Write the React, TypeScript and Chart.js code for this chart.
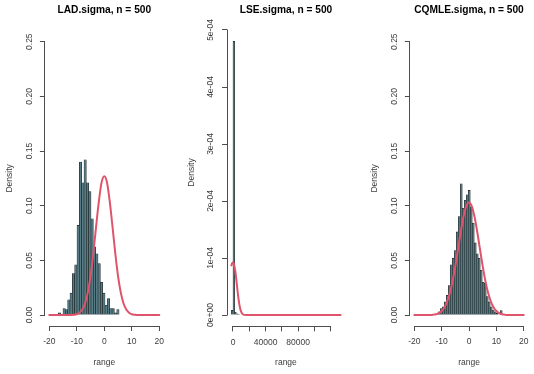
import React, { useEffect, useRef } from 'react';
import { Chart, registerables } from 'chart.js';

Chart.register(...registerables);

const FONT_FAMILY = "'Liberation Sans', Arial, Helvetica, sans-serif";
const CURVE_RED = '#DF536B';
const BAR_FILL = '#567b84';
const BAR_EDGE = '#1d2426';
const AXIS_COLOR = '#4d4d4d';
const LABEL_COLOR = '#3c3c3c';
const TITLE_COLOR = '#000000';

// ---------- shared axes for LAD / CQMLE ----------
const SIGMA_X_TICKS = [-20, -10, 0, 10, 20];
const SIGMA_X_TICK_LABELS = ['-20', '-10', '0', '10', '20'];
const SIGMA_Y_TICKS = [0, 0.05, 0.1, 0.15, 0.2, 0.25];
const SIGMA_Y_TICK_LABELS = ['0.00', '0.05', '0.10', '0.15', '0.20', '0.25'];

// ---------- LAD.sigma ----------
const LAD_TITLE = 'LAD.sigma, n = 500';
const LAD_BREAK_START = -16.73;
const LAD_BIN_WIDTH = 0.85;
const LAD_DENSITY = [0.002, 0, 0.006, 0.005, 0.014, 0.02, 0.038, 0.046, 0.082, 0.14, 0.121, 0.142, 0.121, 0.113, 0.088, 0.0625, 0.056, 0.047, 0.03, 0.02, 0.009, 0.015, 0.006, 0.006, 0.002, 0.005];
const LAD_CURVE_X = [-20, -16, -14, -12, -11, -10, -9, -8, -7, -6, -5, -4, -3, -2, -1, 0, 1, 2, 3, 4, 5, 6, 7, 8, 9, 10, 11, 12, 14, 16, 20];
const LAD_CURVE_Y = [0, 0, 0, 0.0001, 0.0003, 0.0008, 0.0021, 0.005, 0.0106, 0.0205, 0.0356, 0.0563, 0.0804, 0.1034, 0.1211, 0.127, 0.1211, 0.1034, 0.0804, 0.0563, 0.0356, 0.0205, 0.0106, 0.005, 0.0021, 0.0008, 0.0003, 0.0001, 0, 0, 0];

// ---------- LSE.sigma ----------
const LSE_TITLE = 'LSE.sigma, n = 500';
const LSE_BIN_LEFTS = [-2000, 0, 2000, 4000, 6000, 130000];
const LSE_BIN_WIDTH = 2000;
const LSE_DENSITY = [8e-6, 4.8e-4, 5e-6, 2e-6, 1e-6, 1e-6];
const LSE_CURVE_X = [-2000, -1000, 0, 1000, 2000, 3000, 4000, 5000, 6000, 7000, 8000, 9000, 10000, 11000, 12000, 14000, 16000, 132000];
const LSE_CURVE_Y = [8.7e-5, 9.1e-5, 9.2e-5, 9.0e-5, 8.4e-5, 7.5e-5, 6.3e-5, 5.0e-5, 3.7e-5, 2.6e-5, 1.7e-5, 1.0e-5, 5.8e-6, 3.0e-6, 1.4e-6, 2e-7, 0, 0];
const LSE_X_TICKS = [0, 20000, 40000, 60000, 80000, 100000, 120000];
const LSE_X_TICK_LABELS = ['0', '', '40000', '', '80000', '', ''];
const LSE_Y_TICKS = [0, 1e-4, 2e-4, 3e-4, 4e-4, 5e-4];
const LSE_Y_TICK_LABELS = ['0e+00', '1e-04', '2e-04', '3e-04', '4e-04', '5e-04'];

// ---------- CQMLE.sigma ----------
const CQMLE_TITLE = 'CQMLE.sigma, n = 500';
const CQMLE_BREAK_START = -11.22;
const CQMLE_BIN_WIDTH = 0.73;
const CQMLE_DENSITY = [0.003, 0.006, 0.0076, 0.012, 0.018, 0.027, 0.046, 0.052, 0.059, 0.076, 0.09, 0.12, 0.0976, 0.105, 0.11, 0.114, 0.099, 0.084, 0.066, 0.056, 0.052, 0.041, 0.03, 0.029, 0.017, 0.012, 0.0076, 0.0046, 0.003, 0.0015, 0, 0.004];
const CQMLE_CURVE_X = [-20, -16, -14, -13, -12, -11, -10, -9, -8, -7, -6, -5, -4, -3, -2, -1, 0, 1, 2, 3, 4, 5, 6, 7, 8, 9, 10, 11, 12, 13, 14, 16, 20];
const CQMLE_CURVE_Y = [0, 0, 0.0001, 0.0004, 0.0008, 0.0018, 0.0037, 0.0069, 0.0122, 0.0201, 0.031, 0.0447, 0.0604, 0.0763, 0.0901, 0.0996, 0.103, 0.0996, 0.0901, 0.0763, 0.0604, 0.0447, 0.031, 0.0201, 0.0122, 0.0069, 0.0037, 0.0018, 0.0008, 0.0004, 0.0001, 0, 0];

type Geometry = {
  canvasLeft: number;
  canvasWidth: number;
  yAxisWidth: number;
  padRight: number;
  titlePadBottom: number;
  xAxisHeight: number;
  yTickPad: number;
};

type PanelSpec = {
  title: string;
  binLefts: number[];
  binWidth: number;
  density: number[];
  curveX: number[];
  curveY: number[];
  xMin: number;
  xMax: number;
  yMin: number;
  yMax: number;
  xTicks: number[];
  xTickLabels: string[];
  yTicks: number[];
  yTickLabels: string[];
  geo: Geometry;
};

const CANVAS_HEIGHT = 374;

const PANELS: PanelSpec[] = [
  {
    title: LAD_TITLE,
    binLefts: LAD_DENSITY.map((_, i) => LAD_BREAK_START + i * LAD_BIN_WIDTH),
    binWidth: LAD_BIN_WIDTH,
    density: LAD_DENSITY,
    curveX: LAD_CURVE_X,
    curveY: LAD_CURVE_Y,
    xMin: -21.6, xMax: 21.6, yMin: -0.01, yMax: 0.26,
    xTicks: SIGMA_X_TICKS, xTickLabels: SIGMA_X_TICK_LABELS,
    yTicks: SIGMA_Y_TICKS, yTickLabels: SIGMA_Y_TICK_LABELS,
    geo: { canvasLeft: 0, canvasWidth: 178, yAxisWidth: 44.9, padRight: 14.3, titlePadBottom: 14.6, xAxisHeight: 48, yTickPad: 1.7 },
  },
  {
    title: LSE_TITLE,
    binLefts: LSE_BIN_LEFTS,
    binWidth: LSE_BIN_WIDTH,
    density: LSE_DENSITY,
    curveX: LSE_CURVE_X,
    curveY: LSE_CURVE_Y,
    xMin: -7360, xMax: 137360, yMin: -2e-5, yMax: 5.2e-4,
    xTicks: LSE_X_TICKS, xTickLabels: LSE_X_TICK_LABELS,
    yTicks: LSE_Y_TICKS, yTickLabels: LSE_Y_TICK_LABELS,
    geo: { canvasLeft: 182, canvasWidth: 178, yAxisWidth: 45, padRight: 15.1, titlePadBottom: 2.46, xAxisHeight: 47.6, yTickPad: -0.9 },
  },
  {
    title: CQMLE_TITLE,
    binLefts: CQMLE_DENSITY.map((_, i) => CQMLE_BREAK_START + i * CQMLE_BIN_WIDTH),
    binWidth: CQMLE_BIN_WIDTH,
    density: CQMLE_DENSITY,
    curveX: CQMLE_CURVE_X,
    curveY: CQMLE_CURVE_Y,
    xMin: -21.6, xMax: 21.6, yMin: -0.01, yMax: 0.26,
    xTicks: SIGMA_X_TICKS, xTickLabels: SIGMA_X_TICK_LABELS,
    yTicks: SIGMA_Y_TICKS, yTickLabels: SIGMA_Y_TICK_LABELS,
    geo: { canvasLeft: 365, canvasWidth: 169, yAxisWidth: 44.9, padRight: 5.9, titlePadBottom: 14.6, xAxisHeight: 48, yTickPad: 1.7 },
  },
];

// R-style axis lines: from the first tick to the last tick only
const alignPx = (p: number) => Math.round(p - 0.5) + 0.5;
const rAxisLinePlugin = {
  id: 'rAxisLines',
  afterDraw(chart: any) {
    const { ctx, chartArea, scales } = chart;
    const xs = scales.x;
    const ys = scales.y;
    ctx.save();
    ctx.strokeStyle = AXIS_COLOR;
    ctx.lineWidth = 1;
    ctx.beginPath();
    const yb = alignPx(chartArea.bottom);
    ctx.moveTo(alignPx(xs.getPixelForValue(xs.ticks[0].value)), yb);
    ctx.lineTo(alignPx(xs.getPixelForValue(xs.ticks[xs.ticks.length - 1].value)), yb);
    const xl = alignPx(chartArea.left);
    ctx.moveTo(xl, alignPx(ys.getPixelForValue(ys.ticks[0].value)));
    ctx.lineTo(xl, alignPx(ys.getPixelForValue(ys.ticks[ys.ticks.length - 1].value)));
    ctx.stroke();
    ctx.restore();
  },
};

function buildConfig(spec: PanelSpec): any {
  const g = spec.geo;
  const tickFont = { family: FONT_FAMILY, size: 8.5 };
  return {
    type: 'bar',
    data: {
      datasets: [
        {
          type: 'line',
          data: spec.curveX.map((x, i) => ({ x, y: spec.curveY[i] })),
          borderColor: CURVE_RED,
          borderWidth: 2,
          pointRadius: 0,
          fill: false,
          cubicInterpolationMode: 'monotone',
          borderCapStyle: 'round',
          order: 0,
        },
        {
          type: 'bar',
          data: spec.binLefts.map((l, i) => ({ x: l + spec.binWidth / 2, y: spec.density[i] })),
          backgroundColor: BAR_FILL,
          borderColor: BAR_EDGE,
          borderWidth: 0.6,
          barPercentage: 1,
          categoryPercentage: 1,
          order: 1,
        },
      ],
    },
    options: {
      animation: false,
      responsive: false,
      maintainAspectRatio: false,
      events: [],
      layout: { padding: { left: 0, right: g.padRight, top: 0, bottom: 0 }, autoPadding: false },
      plugins: {
        legend: { display: false },
        tooltip: { enabled: false },
        title: {
          display: true,
          text: spec.title,
          fullSize: false,
          color: TITLE_COLOR,
          font: { family: FONT_FAMILY, size: 10.2, weight: 'bold', lineHeight: 1.2 },
          padding: { top: 3.9, bottom: g.titlePadBottom },
        },
      },
      scales: {
        x: {
          type: 'linear',
          min: spec.xMin,
          max: spec.xMax,
          offset: false,
          afterBuildTicks: (s: any) => {
            s.ticks = spec.xTicks.map((v) => ({ value: v }));
          },
          afterFit: (s: any) => {
            s.height = g.xAxisHeight;
            s.paddingLeft = 0;
            s.paddingRight = 0;
            s.paddingTop = 0;
            s.paddingBottom = 0;
          },
          border: { display: false },
          grid: { display: true, offset: false, drawOnChartArea: false, drawTicks: true, tickLength: 5, color: AXIS_COLOR, lineWidth: 1 },
          ticks: {
            autoSkip: false,
            minRotation: 0,
            maxRotation: 0,
            padding: 6,
            color: LABEL_COLOR,
            font: tickFont,
            callback: (_v: any, i: number) => spec.xTickLabels[i],
          },
          title: {
            display: true,
            text: 'range',
            color: LABEL_COLOR,
            font: { family: FONT_FAMILY, size: 8.5, lineHeight: 1.2 },
            padding: { top: 0, bottom: 6.2 },
          },
        },
        y: {
          type: 'linear',
          min: spec.yMin,
          max: spec.yMax,
          afterBuildTicks: (s: any) => {
            s.ticks = spec.yTicks.map((v) => ({ value: v }));
          },
          afterFit: (s: any) => {
            s.width = g.yAxisWidth;
            s.paddingLeft = 0;
            s.paddingRight = 0;
            s.paddingTop = 0;
            s.paddingBottom = 0;
          },
          border: { display: false },
          grid: { display: true, drawOnChartArea: false, drawTicks: true, tickLength: 5, color: AXIS_COLOR, lineWidth: 1 },
          ticks: {
            autoSkip: false,
            minRotation: 90,
            maxRotation: 90,
            crossAlign: 'center',
            padding: g.yTickPad,
            color: LABEL_COLOR,
            font: tickFont,
            callback: (_v: any, i: number) => spec.yTickLabels[i],
          },
          title: {
            display: true,
            text: 'Density',
            color: LABEL_COLOR,
            font: { family: FONT_FAMILY, size: 8.5, lineHeight: 1.2 },
            padding: { top: 4.9, bottom: 0 },
          },
        },
      },
    },
    plugins: [rAxisLinePlugin],
  };
}

function Panel({ spec }: { spec: PanelSpec }) {
  const ref = useRef<HTMLCanvasElement | null>(null);
  useEffect(() => {
    if (!ref.current) return;
    const chart = new Chart(ref.current, buildConfig(spec));
    return () => chart.destroy();
  }, [spec]);
  return (
    <canvas
      ref={ref}
      width={spec.geo.canvasWidth}
      height={CANVAS_HEIGHT}
      style={{
        position: 'absolute',
        left: spec.geo.canvasLeft,
        top: 0,
        width: spec.geo.canvasWidth,
        height: CANVAS_HEIGHT,
        display: 'block',
      }}
    />
  );
}

export default function App() {
  return (
    <div
      style={{
        position: 'fixed',
        left: 0,
        top: 0,
        width: 534,
        height: CANVAS_HEIGHT,
        overflow: 'hidden',
        background: '#ffffff',
      }}
    >
      {PANELS.map((p) => (
        <Panel key={p.title} spec={p} />
      ))}
    </div>
  );
}
